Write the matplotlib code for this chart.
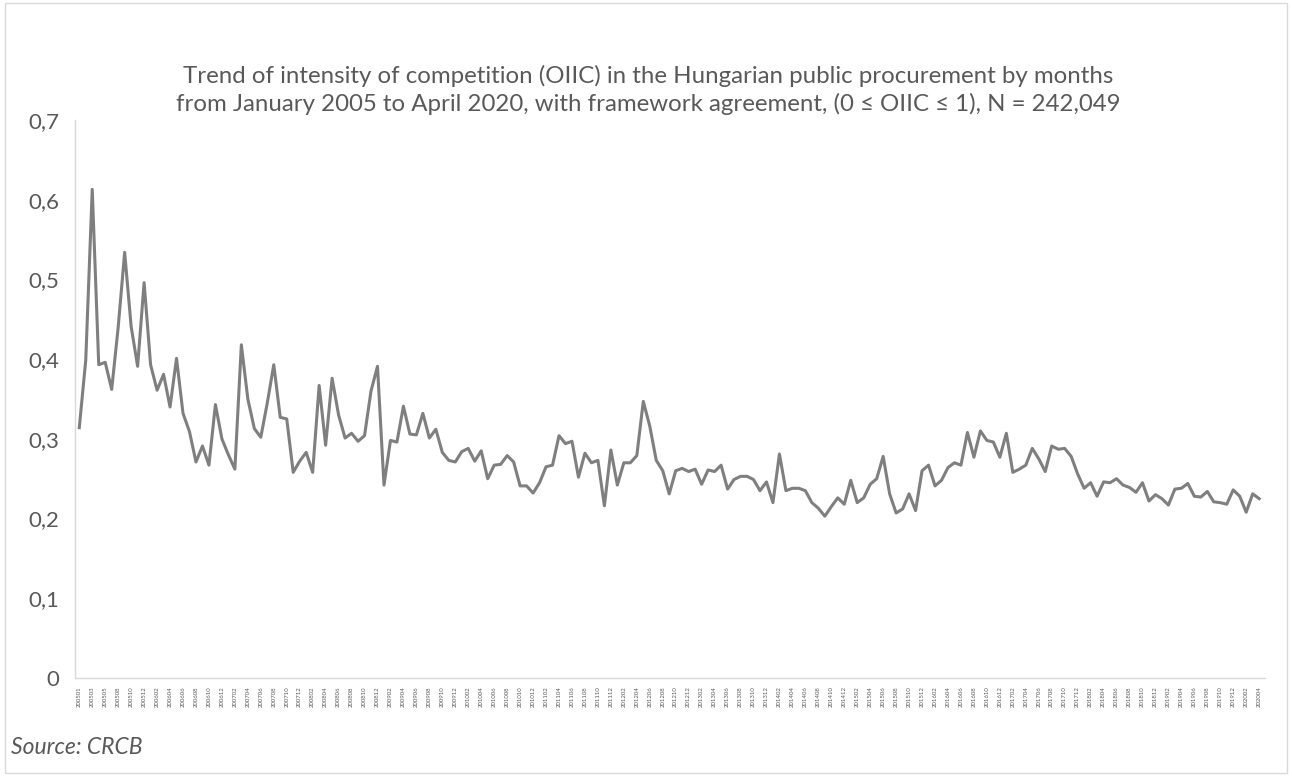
import matplotlib
matplotlib.use("Agg")
import matplotlib.pyplot as plt
from matplotlib.patches import Rectangle

# ---- data ----
months = []
for y in range(2005, 2021):
    for m in range(1, 13):
        if y == 2020 and m > 4:
            break
        if y == 2005 and m == 7:
            continue  # month absent in the source series
        months.append(f"{y}{m:02d}")

values = [
    0.314, 0.399, 0.613, 0.393, 0.396, 0.362, 0.440, 0.534, 0.441, 0.391,
    0.496, 0.393, 0.361, 0.381, 0.340, 0.401, 0.332, 0.309, 0.271, 0.291,
    0.267, 0.343,
    0.300, 0.280, 0.262, 0.418, 0.350, 0.313, 0.302, 0.345, 0.393, 0.327,
    0.325, 0.258, 0.272, 0.283, 0.258, 0.367, 0.292, 0.376, 0.330, 0.301,
    0.307, 0.297, 0.304, 0.360, 0.391, 0.242, 0.298, 0.296, 0.341, 0.306,
    0.305, 0.332, 0.301, 0.312, 0.283, 0.273, 0.271, 0.284, 0.288, 0.272,
    0.285, 0.250, 0.267, 0.268, 0.279, 0.271, 0.241, 0.241, 0.232, 0.245,
    0.265, 0.267, 0.304, 0.294, 0.297, 0.252, 0.282, 0.270, 0.273, 0.216,
    0.286, 0.242, 0.270, 0.270, 0.279, 0.347, 0.316, 0.273, 0.260, 0.231,
    0.260, 0.263, 0.259, 0.262, 0.243, 0.261, 0.259, 0.267, 0.237, 0.249,
    0.253, 0.253, 0.249, 0.235, 0.246, 0.220, 0.281, 0.235, 0.238, 0.238,
    0.235, 0.220, 0.213, 0.203, 0.215, 0.226, 0.218, 0.248, 0.220, 0.226,
    0.243, 0.250, 0.278, 0.231, 0.207, 0.212, 0.231, 0.210, 0.260, 0.267,
    0.241, 0.248, 0.264, 0.270, 0.267, 0.308, 0.277, 0.310, 0.298, 0.296,
    0.277, 0.307, 0.258, 0.262, 0.267, 0.288, 0.275, 0.259, 0.291, 0.287,
    0.288, 0.278, 0.256, 0.238, 0.245, 0.228, 0.246, 0.245, 0.250, 0.242,
    0.239, 0.233, 0.245, 0.222, 0.230, 0.225, 0.217, 0.237, 0.238, 0.244,
    0.228, 0.227, 0.234, 0.221, 0.220, 0.218, 0.236, 0.228, 0.208, 0.231,
    0.225,
]
n = min(len(values), len(months))
values = values[:n]
months = months[:n]

yticks = [0, 0.1, 0.2, 0.3, 0.4, 0.5, 0.6, 0.7]
ytick_labels = ["0", "0,1", "0,2", "0,3", "0,4", "0,5", "0,6", "0,7"]

title = ("Trend of intensity of competition (OIIC) in the Hungarian public procurement by months\n"
         "from January 2005 to April 2020, with framework agreement, (0 \u2264 OIIC \u2264 1), N = 242,049")

plt.rcParams['font.family'] = ['Lato', 'DejaVu Sans']
txt = "#595959"

fig = plt.figure(figsize=(12.92, 7.76), dpi=100)
fig.patches.append(Rectangle((0.004, 0.004), 0.992, 0.992, transform=fig.transFigure,
                             fill=False, edgecolor="#d9d9d9", linewidth=1))
ax = fig.add_axes([75/1292, 1-678/776, (1265-75)/1292, (678-120)/776])

x = list(range(n))
ax.plot(x, values, color="#7f7f7f", linewidth=2.2, solid_joinstyle="round")

ax.set_ylim(0, 0.7)
ax.set_xlim(-0.66, n - 1 + 0.9)
ax.set_yticks(yticks)
ax.set_yticklabels(ytick_labels, fontsize=16, color=txt)
ax.set_xticks(x[::2])
ax.set_xticklabels(months[::2], rotation=90, fontsize=4.3, color=txt)
ax.tick_params(axis="both", length=0)
ax.tick_params(axis="y", pad=11)
ax.tick_params(axis="x", pad=6)
for s in ["top", "right"]:
    ax.spines[s].set_visible(False)
for s in ["left", "bottom"]:
    ax.spines[s].set_color("#d9d9d9")
    ax.spines[s].set_linewidth(1)

fig.text(0.5015, 1-90/776, title, ha="center", va="center", fontsize=17.3,
         color=txt, linespacing=1.28)
fig.text(11/1292, 1-748/776, "Source: CRCB", ha="left", va="center", fontsize=16.5,
         color=txt, style="italic")

fig.savefig("out.png", dpi=100)
